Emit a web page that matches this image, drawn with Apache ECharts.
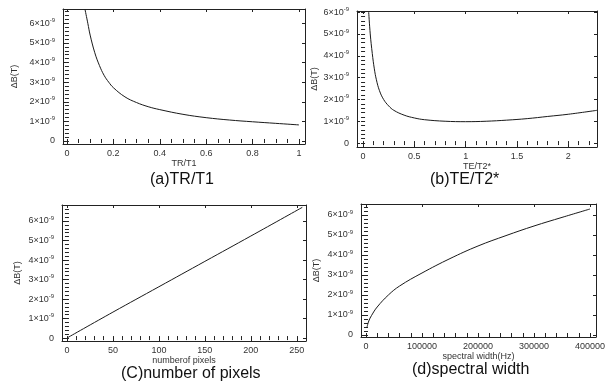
<!DOCTYPE html>
<html>
<head>
<meta charset="utf-8">
<script src="https://cdn.jsdelivr.net/npm/echarts@6/dist/echarts.min.js"></script>
<style>
  html, body { margin: 0; padding: 0; background: #fff; }
  #main { width: 614px; height: 381px; }
</style>
</head>
<body>
<div id="main"></div>
<script>
// values of dB are in units of 1e-9 T
const trT1 = [0.078, 0.09, 0.1, 0.12, 0.14, 0.16, 0.18, 0.2, 0.25, 0.3, 0.35, 0.4, 0.5, 0.6, 0.7, 0.8, 0.9, 1.0]
const dbA = [6.7, 6.0, 5.4, 4.5, 3.85, 3.35, 3.0, 2.72, 2.25, 1.96, 1.75, 1.6, 1.36, 1.19, 1.07, 0.98, 0.9, 0.82]

const teT2 = [0.055, 0.07, 0.09, 0.11, 0.13, 0.16, 0.2, 0.25, 0.3, 0.4, 0.5, 0.6, 0.8, 1.0, 1.2, 1.4, 1.6, 1.8, 2.0, 2.28]
const dbB = [6.0, 5.0, 4.1, 3.4, 2.9, 2.4, 2.0, 1.7, 1.5, 1.28, 1.15, 1.07, 1.0, 0.98, 1.0, 1.05, 1.12, 1.22, 1.32, 1.5]

const pixels = [1, 50, 100, 150, 200, 256]
const dbC = [0.03, 1.33, 2.63, 3.93, 5.23, 6.7]

const specWidth = [1500, 5000, 10000, 20000, 40000, 60000, 100000, 150000, 200000, 250000, 300000, 350000, 400000]
const dbD = [0.35, 0.7, 0.98, 1.4, 2.0, 2.45, 3.1, 3.82, 4.45, 4.97, 5.45, 5.88, 6.3]

const yMajor = [0, 1, 2, 3, 4, 5, 6]
const xMajorA = [0, 0.2, 0.4, 0.6, 0.8, 1]
const xMajorB = [0, 0.5, 1, 1.5, 2]
const xMajorC = [0, 50, 100, 150, 200, 250]
const xMajorD = [0, 100000, 200000, 300000, 400000]

const FONT = 'Liberation Sans, Arial, sans-serif'

const steps = (from, to, step) => {
  const out = []
  for (let v = from; v <= to + 1e-9; v += step) out.push(Math.round(v * 1e6) / 1e6)
  return out
}

const yLabel = v => {
  if (v === 0) return '{b|0}'
  return `{b|${v}×10}{s|-9}`
}

const xAxes = []
const yAxes = []
const grids = []

// one framed panel, ticks inside on all four sides like the original plot
const panel = (p) => {
  const gi = grids.length
  grids.push({ left: p.left, top: p.top, width: p.width, height: p.height, containLabel: false })
  const line = { show: true, onZero: false, lineStyle: { color: '#222', width: 1 } }
  ;['bottom', 'top'].forEach(pos => {
    xAxes.push({
      type: 'value', gridIndex: gi, position: pos, min: p.xmin, max: p.xmax,
      axisLine: line,
      axisTick: { show: true, inside: true, length: 3, customValues: p.xMajor, lineStyle: { color: '#222' } },
      axisLabel: pos === 'bottom'
        ? { show: true, customValues: p.xMajor, fontSize: 9, color: '#333', fontFamily: FONT, margin: 5, formatter: v => String(v) }
        : { show: false },
      splitLine: { show: false },
      name: pos === 'bottom' ? p.xName : '',
      nameLocation: 'middle', nameGap: 13,
      nameTextStyle: { fontSize: 9, color: '#333', fontFamily: FONT },
    })
    xAxes.push({
      type: 'value', gridIndex: gi, position: pos, min: p.xmin, max: p.xmax,
      axisLine: { show: false },
      axisTick: { show: true, inside: true, length: 2, customValues: p.xMinor, lineStyle: { color: '#222' } },
      axisLabel: { show: false },
      splitLine: { show: false },
    })
  })
  ;['left', 'right'].forEach(pos => {
    yAxes.push({
      type: 'value', gridIndex: gi, position: pos, min: p.ymin, max: p.ymax,
      axisLine: line,
      axisTick: { show: true, inside: true, length: 3, customValues: yMajor, lineStyle: { color: '#222' } },
      axisLabel: pos === 'left'
        ? {
            show: true, customValues: yMajor, margin: 8, formatter: yLabel,
            rich: {
              b: { fontSize: 9, color: '#333', fontFamily: FONT },
              s: { fontSize: 6, color: '#333', fontFamily: FONT, padding: [0, 0, 6, 0] },
            },
          }
        : { show: false },
      splitLine: { show: false },
      name: pos === 'left' ? 'ΔB(T)' : '',
      nameLocation: 'middle', nameRotate: 90, nameGap: p.nameGap,
      nameTextStyle: { fontSize: 9, color: '#333', fontFamily: FONT },
    })
    yAxes.push({
      type: 'value', gridIndex: gi, position: pos, min: p.ymin, max: p.ymax,
      axisLine: { show: false },
      axisTick: { show: true, inside: true, length: 2, customValues: steps(0, 6.6, 0.2), lineStyle: { color: '#222' } },
      axisLabel: { show: false },
      splitLine: { show: false },
    })
  })
  return gi
}

const ga = panel({ left: 63, top: 9, width: 242, height: 135, xmin: -0.017, xmax: 1.026, ymin: -0.153, ymax: 6.73,
  xMajor: xMajorA, xMinor: steps(0, 1, 0.05), xName: 'TR/T1', nameGap: 44 })
const gb = panel({ left: 357, top: 11, width: 240, height: 136, xmin: -0.059, xmax: 2.28, ymin: -0.18, ymax: 6.05,
  xMajor: xMajorB, xMinor: steps(0, 2.25, 0.1), xName: 'TE/T2*', nameGap: 35 })
const gc = panel({ left: 62, top: 205, width: 244, height: 136, xmin: -5.4, xmax: 260, ymin: -0.15, ymax: 6.82,
  xMajor: xMajorC, xMinor: steps(0, 260, 10), xName: 'numberof pixels', nameGap: 40 })
const gd = panel({ left: 361, top: 204, width: 235, height: 133, xmin: -8900, xmax: 410700, ymin: -0.1, ymax: 6.55,
  xMajor: xMajorD, xMinor: steps(0, 400000, 20000), xName: 'spectral width(Hz)', nameGap: 40 })

const mk = (gi, xs, ys) => ({
  type: 'line', xAxisIndex: gi * 4, yAxisIndex: gi * 4, smooth: 0.4, symbol: 'none',
  lineStyle: { color: '#1a1a1a', width: 1 },
  data: xs.map((x, i) => [x, ys[i]]),
  silent: true, animation: false,
})

const caption = (text, x, y) => ({
  type: 'text', left: x, top: y,
  style: { text, fontSize: 16, fill: '#111', fontFamily: FONT, textAlign: 'center' },
})

const myChart = echarts.init(document.getElementById('main'), null, { renderer: 'canvas' })
myChart.setOption({
  backgroundColor: '#fff',
  animation: false,
  grid: grids,
  xAxis: xAxes,
  yAxis: yAxes,
  series: [mk(ga, trT1, dbA), mk(gb, teT2, dbB), mk(gc, pixels, dbC), mk(gd, specWidth, dbD)],
  graphic: [
    caption('(a)TR/T1', 150, 172),
    caption('(b)TE/T2*', 430, 172),
    caption('(C)number of pixels', 121, 366),
    caption('(d)spectral width', 412, 362),
  ],
})
</script>
</body>
</html>
